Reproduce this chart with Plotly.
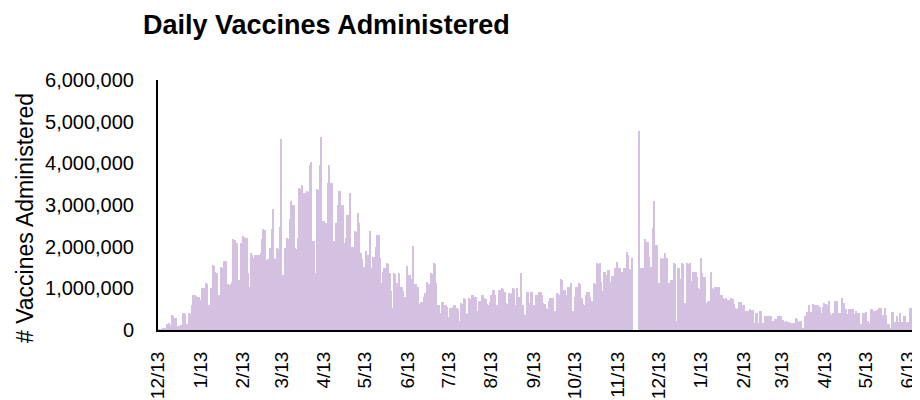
import pandas as pd
import plotly.graph_objects as go

# Daily doses administered, in thousands, one value per day starting 2020-12-13
start_date = "2020-12-13"

seg1 = [
    0, 5, 10, 20, 50, 60, 60, 150, 165, 120,
    360, 345, 300, 290, 100, 105, 90, 110, 420, 405,
    380, 150, 140, 400, 390, 600, 840, 850, 820, 800,
    790, 720, 1000, 980, 1010, 1120, 1110, 600, 590, 1000,
    1560, 1540, 1400, 1380, 840, 830, 1520, 1500, 1650, 1640,
    1660, 1100, 1090, 1110, 1150, 2180, 2160, 2100, 2080, 1200,
    1190, 2100, 2250, 2240, 2220, 2200, 1360, 1040, 1840, 1800,
    1720, 1800, 1790, 840, 1800, 1850, 2180, 2420, 2400, 1680,
    1700, 1650, 1960, 2420, 2900, 1720, 1710, 1960, 1950, 2480,
    4580, 1320, 1310, 1960, 2200, 2190, 2660, 3090, 3000, 2990,
]
seg2 = [
    1960, 1950, 2200, 3400, 3390, 3480, 3300, 3290, 1760, 3330,
    3320, 3960, 4040, 2140, 2130, 1360, 3380, 3370, 3960, 4640,
    2620, 2610, 2580, 2570, 3540, 3960, 3540, 3530, 2140, 2130,
    2580, 3000, 3330, 3330, 3000, 2990, 2080, 2200, 2760, 2750,
    3280, 2000, 1990, 1000, 2370, 2360, 2800, 2560, 1840, 1700,
    1520, 1510, 1900, 1800, 1790, 2370, 1480, 1760, 1750, 2000,
    2280, 2270, 1740, 1140, 1400, 1500, 1490, 1600, 1590, 1360,
    940, 520, 1360, 1350, 1140, 1130, 1360, 1040, 1030, 940,
    800, 790, 1540, 1320, 1310, 1220, 2020, 1100, 1100, 1040,
    1030, 620, 680, 670, 800, 880, 1160, 1100, 1100, 1360,
]
seg3 = [
    1350, 1600, 1590, 1120, 600, 590, 400, 680, 670, 600,
    590, 560, 320, 540, 530, 545, 600, 590, 520, 510,
    220, 640, 630, 760, 750, 380, 400, 760, 750, 840,
    830, 800, 790, 460, 700, 690, 840, 830, 760, 750,
    620, 610, 680, 840, 960, 950, 840, 600, 590, 960,
    950, 1000, 990, 920, 640, 630, 880, 870, 880, 1000,
    990, 600, 1000, 800, 790, 1360, 600, 380, 370, 920,
    910, 640, 920, 910, 600, 590, 840, 830, 920, 910,
    840, 640, 630, 520, 510, 700, 760, 780, 770, 460,
    450, 880, 870, 840, 1220, 1210, 960, 950, 840, 1040,
]
seg4 = [
    1030, 1120, 460, 450, 800, 1040, 1030, 1120, 1110, 780,
    620, 610, 840, 920, 910, 800, 700, 690, 1120, 1110,
    1600, 1590, 1600, 1160, 940, 1400, 1390, 1320, 1440, 1430,
    1160, 1300, 1290, 1480, 1320, 1640, 1500, 1490, 1400, 1390,
    1480, 1480, 1880, 1800, 1460, 1180, 1720, 0, 0, 0,
    0, 4770, 1500, 1490, 1500, 2180, 2120, 2110, 1760, 1520,
    1510, 2450, 3100, 2050, 2040, 1140, 1130, 1720, 1710, 1720,
    1840, 1720, 1140, 1130, 1200, 1190, 1600, 1590, 220, 1500,
    1490, 1220, 1600, 1590, 640, 0, 1600, 1590, 1600, 1180,
    1400, 1390, 1400, 1280, 1000, 990, 1720, 1360, 1280, 1270,
]
seg5 = [
    640, 700, 690, 1400, 1000, 990, 1040, 680, 1040, 1030,
    840, 830, 760, 750, 760, 560, 720, 710, 760, 750,
    620, 520, 510, 520, 680, 670, 600, 590, 460, 450,
    460, 450, 500, 480, 470, 160, 420, 410, 160, 460,
    450, 160, 150, 340, 340, 330, 340, 335, 220, 215,
    260, 255, 340, 335, 340, 120, 240, 200, 210, 190,
    200, 180, 160, 155, 160, 280, 275, 200, 220, 215,
    40, 60, 340, 440, 435, 600, 440, 435, 620, 610,
    600, 590, 560, 550, 420, 560, 640, 635, 600, 700,
    420, 360, 420, 415, 700, 690, 420, 415, 420, 760,
]
seg6 = [
    640, 500, 495, 380, 500, 495, 500, 500, 380, 460,
    420, 415, 140, 135, 420, 415, 440, 220, 215, 160,
    500, 495, 460, 455, 480, 240, 540, 535, 360, 360,
    540, 360, 140, 135, 60, 440, 435, 200, 195, 340,
    200, 400, 200, 195, 340, 335, 200, 195, 540, 535, 220,
]

tick_dates = [
    "2020-12-13", "2021-01-13", "2021-02-13", "2021-03-13", "2021-04-13",
    "2021-05-13", "2021-06-13", "2021-07-13", "2021-08-13", "2021-09-13",
    "2021-10-13", "2021-11-13", "2021-12-13", "2022-01-13", "2022-02-13",
    "2022-03-13", "2022-04-13", "2022-05-13", "2022-06-13",
]
tick_labels = [
    "12/13", "1/13", "2/13", "3/13", "4/13", "5/13", "6/13", "7/13", "8/13",
    "9/13", "10/13", "11/13", "12/13", "1/13", "2/13", "3/13", "4/13", "5/13", "6/13",
]
y_ticks = [0, 1000000, 2000000, 3000000, 4000000, 5000000, 6000000]
y_tick_labels = ["0", "1,000,000", "2,000,000", "3,000,000", "4,000,000", "5,000,000", "6,000,000"]

doses_k = seg1 + seg2 + seg3 + seg4 + seg5 + seg6
doses = [v * 1000 for v in doses_k]
dates = pd.date_range(start_date, periods=len(doses), freq="D")

BAR = "#D4C1E2"
FONT = "Liberation Sans, Arial, sans-serif"

# The page body adds an 8px offset, so the figure is sized to end at the window edge.
FIG_W, FIG_H = 912, 392
M_L, M_R, M_T, M_B = 150, 7, 72, 70
PLOT_W = FIG_W - M_L - M_R
PLOT_H = FIG_H - M_T - M_B

fig = go.Figure(go.Bar(x=dates, y=doses, marker=dict(color=BAR, line=dict(width=0))))

fig.update_layout(
    width=FIG_W, height=FIG_H,
    margin=dict(l=M_L, r=M_R, t=M_T, b=M_B, autoexpand=False),
    paper_bgcolor="white", plot_bgcolor="white",
    bargap=0,
    showlegend=False,
    font=dict(family=FONT, size=19, color="black"),
)
fig.update_xaxes(
    type="date", automargin=False,
    range=["2020-12-13 00:00", "2022-06-16 10:00"],
    tickmode="array", tickvals=tick_dates, ticktext=tick_labels,
    tickangle=-90, tickfont=dict(family=FONT, size=19, color="black"),
    ticks="outside", ticklen=12, tickcolor="rgba(0,0,0,0)",
    showgrid=False, zeroline=False,
    showline=True, linecolor="black", linewidth=2,
)
fig.update_yaxes(
    range=[0, 6000000], automargin=False,
    tickmode="array", tickvals=y_ticks, ticktext=y_tick_labels,
    tickfont=dict(family=FONT, size=20, color="black"),
    ticks="outside", ticklen=18, tickcolor="rgba(0,0,0,0)",
    showgrid=False, zeroline=False,
    showline=True, linecolor="black", linewidth=2,
)
fig.add_annotation(
    text="# Vaccines Administered", textangle=-90,
    xref="paper", yref="paper", x=(25 - 158) / PLOT_W, y=(330 - 218) / PLOT_H,
    xanchor="center", yanchor="middle", showarrow=False,
    font=dict(family=FONT, size=23, color="black"),
)
fig.add_annotation(
    text="<b>Daily Vaccines Administered</b>",
    xref="paper", yref="paper", x=(141 - 158) / PLOT_W, y=(330 - 25) / PLOT_H,
    xanchor="left", yanchor="middle", showarrow=False,
    font=dict(family="Liberation Sans Narrow, Arial Narrow, Liberation Sans, Arial, sans-serif",
              size=27, color="black"),
)

fig.write_html("out.html")
